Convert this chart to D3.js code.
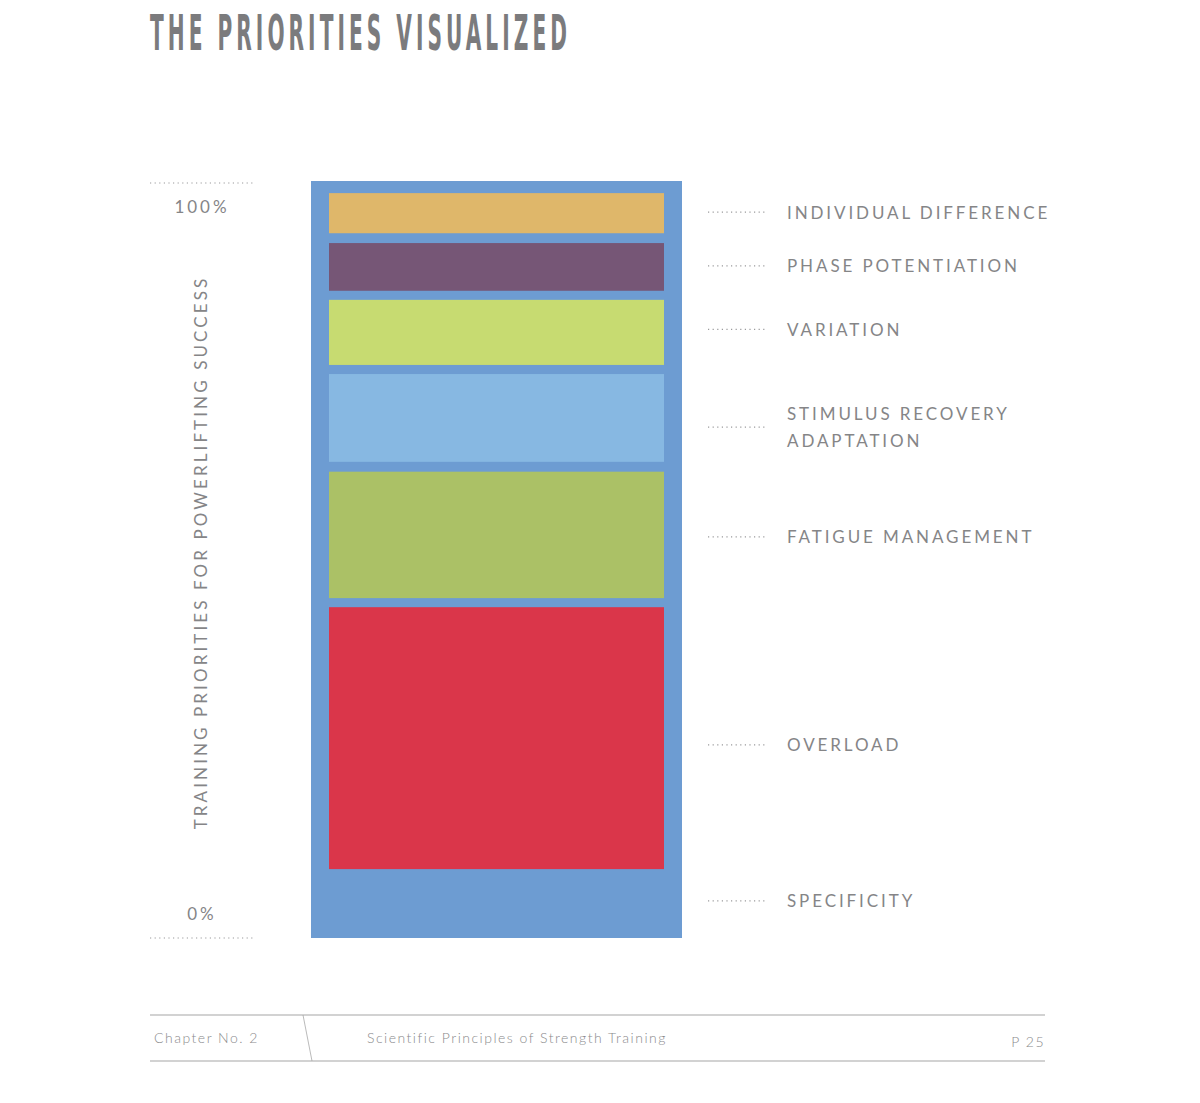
<!DOCTYPE html>
<html>
<head>
<meta charset="utf-8">
<script src="https://cdn.jsdelivr.net/npm/d3@7"></script>
<style>
  html, body { margin: 0; padding: 0; background: #ffffff; }
  svg { display: block; }
</style>
</head>
<body>
<div id="chart"></div>
<script>
// ---- data ----
const categories = ["SPECIFICITY", "OVERLOAD", "FATIGUE MANAGEMENT", "STIMULUS RECOVERY ADAPTATION", "VARIATION", "PHASE POTENTIATION", "INDIVIDUAL DIFFERENCE"];
const labelLines = [["SPECIFICITY"], ["OVERLOAD"], ["FATIGUE MANAGEMENT"], ["STIMULUS RECOVERY", "ADAPTATION"], ["VARIATION"], ["PHASE POTENTIATION"], ["INDIVIDUAL DIFFERENCE"]];
const segStart = [0, 9.1, 44.9, 62.9, 75.7, 85.5, 93.1];
const segEnd   = [100, 43.7, 61.6, 74.5, 84.3, 91.8, 98.4];
const labelAt  = [4.9, 25.5, 53.0, 67.5, 80.4, 88.8, 95.9];
const colors   = ["#6d9cd2", "#da364a", "#abc166", "#87b8e2", "#c7db71", "#765676", "#dfb76a"];
const tickValues = [0, 100];
const tickLabels = ["0%", "100%"];

const W = 1200, H = 1103;
const svg = d3.select("#chart").append("svg").attr("width", W).attr("height", H);

const textGrey = "#858587";
const font = "Lato, 'Noto Sans', sans-serif";

// Title (condensed, scaled horizontally to fit)
const tSpacing = 9;
const title = svg.append("text")
  .attr("x", 0).attr("y", 0)
  .style("font-family", "'Liberation Sans Narrow', 'DejaVu Sans Condensed', sans-serif")
  .style("font-weight", "bold").style("font-size", "50px")
  .style("letter-spacing", tSpacing + "px")
  .style("fill", "#7b7b7d")
  .text("THE PRIORITIES VISUALIZED");
const tw = title.node().getComputedTextLength() - tSpacing;
title.attr("transform", `translate(150,50) scale(${417 / tw},1)`);

// scales
const y = d3.scaleLinear().domain([0, 100]).range([938, 181]);
const x = d3.scaleBand().domain(["stack"]).range([311, 682]).padding(0);
const inset = 18;

// bars
const idx = d3.range(categories.length);
svg.append("g").selectAll("rect").data(idx).join("rect")
  .attr("x", i => i === 0 ? x("stack") : x("stack") + inset)
  .attr("width", i => i === 0 ? x.bandwidth() : x.bandwidth() - 2 * inset)
  .attr("y", i => y(segEnd[i]))
  .attr("height", i => y(segStart[i]) - y(segEnd[i]))
  .attr("fill", i => colors[i]);

// right labels with dotted leaders
const lab = svg.append("g");
idx.forEach(i => {
  const cy = y(labelAt[i]);
  lab.append("line")
    .attr("x1", 708).attr("x2", 766).attr("y1", cy).attr("y2", cy)
    .attr("stroke", "#9a9a9c").attr("stroke-width", 1.2)
    .attr("stroke-dasharray", "1.2,3.4");
  const lines = labelLines[i];
  const lh = 27;
  const t = lab.append("text")
    .attr("x", 787)
    .style("font-family", font).style("font-weight", 400)
    .style("font-size", "17px").style("letter-spacing", "2.9px")
    .style("fill", textGrey);
  lines.forEach((ln, k) => {
    t.append("tspan")
      .attr("x", 787)
      .attr("y", cy + 6.5 + (k - (lines.length - 1) / 2) * lh)
      .text(ln);
  });
});

// left axis: dotted lines and tick labels
const ax = svg.append("g");
const tickLineY = v => v === 100 ? y(100) + 2 : y(0);
tickValues.forEach((v, k) => {
  ax.append("line")
    .attr("x1", 150).attr("x2", 253)
    .attr("y1", tickLineY(v)).attr("y2", tickLineY(v))
    .attr("stroke", "#9a9a9c").attr("stroke-width", 1.2)
    .attr("stroke-dasharray", "1.2,3.4");
  ax.append("text")
    .attr("x", 202)
    .attr("y", v === 100 ? y(v) + 32 : y(v) - 18)
    .attr("text-anchor", "middle")
    .style("font-family", font).style("font-weight", 400)
    .style("font-size", "17px").style("letter-spacing", "3px")
    .style("fill", textGrey)
    .text(tickLabels[k]);
});

// rotated axis title
svg.append("text")
  .attr("transform", `translate(207, ${(277 + 828) / 2}) rotate(-90)`)
  .attr("text-anchor", "middle")
  .style("font-family", font).style("font-weight", 400)
  .style("font-size", "17px").style("letter-spacing", "3.1px")
  .style("fill", textGrey)
  .text("TRAINING PRIORITIES FOR POWERLIFTING SUCCESS");

// footer
const ft = svg.append("g");
[1015, 1061].forEach(yy => {
  ft.append("line").attr("x1", 150).attr("x2", 1045).attr("y1", yy).attr("y2", yy)
    .attr("stroke", "#d2d2d2").attr("stroke-width", 2);
});
ft.append("line").attr("x1", 303).attr("y1", 1015).attr("x2", 312).attr("y2", 1061)
  .attr("stroke", "#a8a8a8").attr("stroke-width", 0.8);
const footStyle = sel => sel.style("font-family", font).style("font-weight", 300)
  .style("font-size", "14px").style("letter-spacing", "1.5px").style("fill", "#8a8a8c");
footStyle(ft.append("text").attr("x", 154).attr("y", 1043).text("Chapter No. 2"));
footStyle(ft.append("text").attr("x", 367).attr("y", 1043).text("Scientific Principles of Strength Training"));
footStyle(ft.append("text").attr("x", 1045).attr("y", 1047).attr("text-anchor", "end").text("P 25"));
</script>
</body>
</html>
